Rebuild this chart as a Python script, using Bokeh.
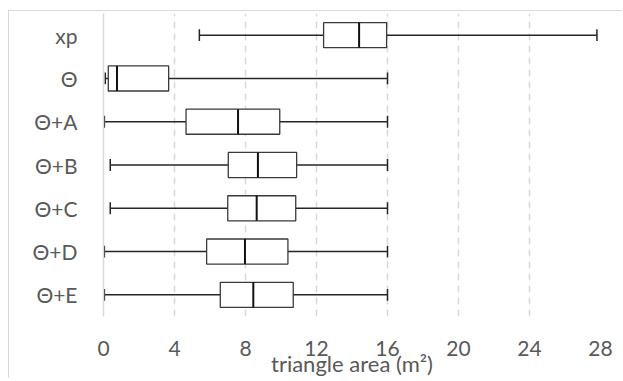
from bokeh.plotting import figure
from bokeh.models import ColumnDataSource, FactorRange, Range1d, FixedTicker
from bokeh.transform import dodge
from bokeh.embed import file_html
from bokeh.resources import INLINE

groups = ["xp", "Θ", "Θ+A", "Θ+B", "Θ+C", "Θ+D", "Θ+E"]
mins = [5.4, 0.1, 0.05, 0.38, 0.38, 0.05, 0.05]
q1 = [12.4, 0.27, 4.65, 7.03, 7.0, 5.81, 6.58]
med = [14.4, 0.76, 7.58, 8.70, 8.63, 7.97, 8.44]
q3 = [15.95, 3.67, 9.93, 10.88, 10.83, 10.39, 10.69]
maxs = [27.8, 16, 16, 16, 16, 16, 16]
x_ticks = [0, 4, 8, 12, 16, 20, 24, 28]

FONT = "Lato"
TXT = "#595959"
GRID = "#d9d9d9"
DARK = "#262626"

src = ColumnDataSource(dict(g=groups, lo=mins, q1=q1, med=med, q3=q3, hi=maxs))

p = figure(width=614, height=368, output_backend="svg", toolbar_location=None,
           y_range=FactorRange(*groups[::-1]), x_range=Range1d(0, 28))
p.styles = {"border-left": "1px solid #d9d9d9", "border-top": "1px solid #d9d9d9",
            "margin-top": "10px", "margin-left": "8px"}
p.min_border_left = 94
p.min_border_right = 23
p.min_border_top = 2
p.min_border_bottom = 54
p.outline_line_color = None
p.background_fill_color = "white"
p.border_fill_color = "white"

# grid
p.xaxis.ticker = FixedTicker(ticks=x_ticks)
p.xgrid.grid_line_color = GRID
p.xgrid.grid_line_width = 1.5
p.xgrid.grid_line_dash = "7 5"
p.ygrid.grid_line_color = None

# axes
p.xaxis.axis_line_color = None
p.xaxis.major_tick_line_color = None
p.xaxis.minor_tick_line_color = None
p.xaxis.major_label_text_font = FONT
p.xaxis.major_label_text_font_size = "21px"
p.xaxis.major_label_text_color = TXT
p.xaxis.major_label_standoff = 18
p.xaxis.axis_label = "triangle area (m²)"
p.xaxis.axis_label_text_font = FONT
p.xaxis.axis_label_text_font_size = "22px"
p.xaxis.axis_label_text_font_style = "normal"
p.xaxis.axis_label_text_color = TXT
p.xaxis.axis_label_standoff = -9

p.yaxis.axis_line_color = GRID
p.yaxis.axis_line_width = 1.5
p.yaxis.major_tick_line_color = None
p.yaxis.minor_tick_line_color = None
p.yaxis.major_label_text_font = FONT
p.yaxis.major_label_text_font_size = "21px"
p.yaxis.major_label_text_color = TXT
p.yaxis.major_label_standoff = 20

# whiskers
p.segment(x0="lo", x1="hi", y0="g", y1="g", source=src, line_color=DARK, line_width=1.5)
# caps
cap = 0.137
p.segment(x0="lo", x1="lo", y0=dodge("g", -cap, range=p.y_range), y1=dodge("g", cap, range=p.y_range),
          source=src, line_color=DARK, line_width=1.5)
p.segment(x0="hi", x1="hi", y0=dodge("g", -cap, range=p.y_range), y1=dodge("g", cap, range=p.y_range),
          source=src, line_color=DARK, line_width=1.5)
# boxes
p.hbar(y="g", left="q1", right="q3", height=0.58, source=src,
       fill_color="white", line_color="#3a3a3a", line_width=1.3)
# medians
h = 0.29
p.segment(x0="med", x1="med", y0=dodge("g", -h, range=p.y_range), y1=dodge("g", h, range=p.y_range),
          source=src, line_color="#111111", line_width=2)

open("out.html", "w").write(file_html(p, INLINE))
